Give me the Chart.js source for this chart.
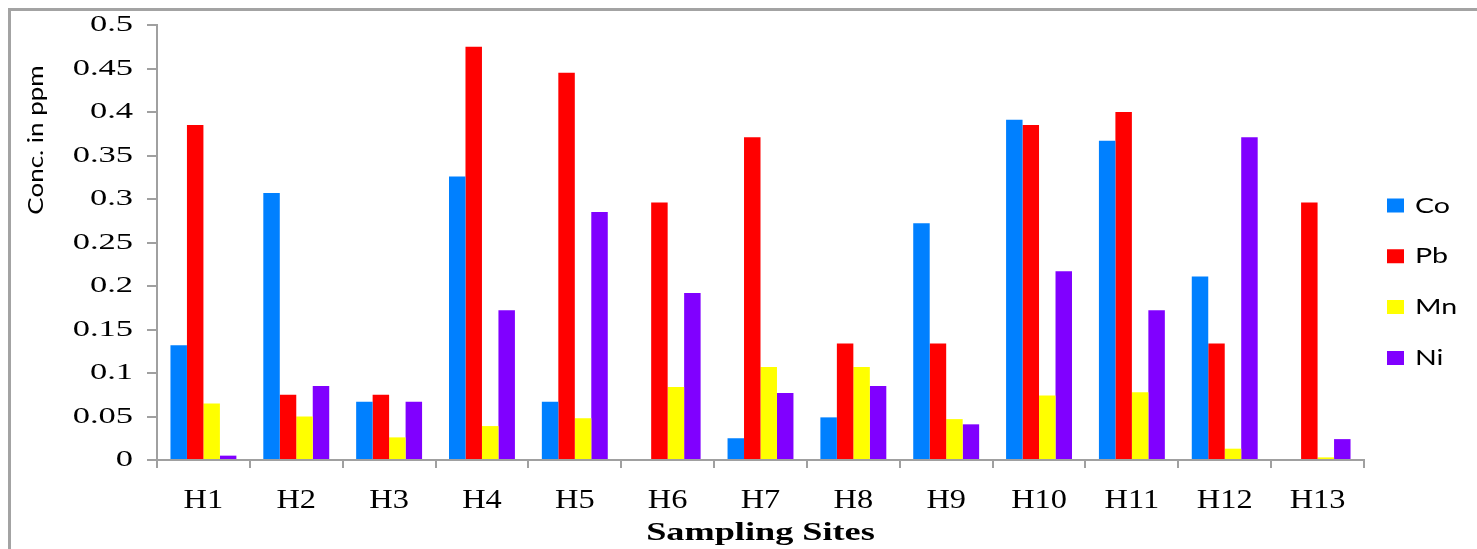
<!DOCTYPE html>
<html>
<head>
<meta charset="utf-8">
<script src="https://cdn.jsdelivr.net/npm/chart.js@4.4.1/dist/chart.umd.min.js"></script>
<style>
  html, body { margin: 0; padding: 0; background: #fff; overflow: hidden; }
  #wrap { position: relative; width: 1477px; height: 549px; overflow: hidden; background: #fff; }
  #frame { position: absolute; left: 8px; top: 8px; width: 1540px; height: 620px;
           border-top: 3px solid #a3a3a3; border-left: 3px solid #a3a3a3; }
  canvas { position: absolute; left: 0; top: 0; }
</style>
</head>
<body>
<div id="wrap">
  <div id="frame"></div>
  <canvas id="c" width="1477" height="549"></canvas>
</div>
<script>
// Sampling sites along the x axis
const sites = ['H1', 'H2', 'H3', 'H4', 'H5', 'H6', 'H7', 'H8', 'H9', 'H10', 'H11', 'H12', 'H13'];

// Metal concentrations (ppm) per site
const co = [0.132, 0.307, 0.067, 0.326, 0.067, 0, 0.025, 0.049, 0.272, 0.391, 0.367, 0.211, 0];
const pb = [0.385, 0.075, 0.075, 0.475, 0.445, 0.296, 0.371, 0.134, 0.134, 0.385, 0.400, 0.134, 0.296];
const mn = [0.065, 0.050, 0.026, 0.039, 0.048, 0.084, 0.107, 0.107, 0.047, 0.074, 0.078, 0.013, 0.003];
const ni = [0.005, 0.085, 0.067, 0.172, 0.285, 0.192, 0.077, 0.085, 0.041, 0.217, 0.172, 0.371, 0.024];

// Value-axis tick labels
const yTickLabels = ['0', '0.05', '0.1', '0.15', '0.2', '0.25', '0.3', '0.35', '0.4', '0.45', '0.5'];

const xTitle = 'Sampling Sites';
const yTitle = 'Conc. in ppm';

const AXIS_GRAY = '#a0a0a0';
const SERIF = '"Liberation Serif", "Times New Roman", serif';
const SANS = 'Lato, "Open Sans", "Liberation Sans", sans-serif';

// Run a drawing method with its text widened horizontally around each anchor
// point (and an optional shift of the whole element).
function withStretch(obj, name, sx, shift) {
  const key = '_st_' + name;
  if (!obj || obj[key]) return;
  const orig = obj[name].bind(obj);
  obj[name] = function (...args) {
    const ctx = obj.ctx;
    const baseFill = CanvasRenderingContext2D.prototype.fillText;
    ctx.save();
    if (shift) { const d = shift(obj); ctx.translate(d[0], d[1]); }
    ctx.fillText = function (t, x, y) {
      this.save();
      this.translate(x, y);
      this.scale(sx, 1);
      baseFill.call(this, t, 0, 0);
      this.restore();
    };
    try { orig(...args); } finally {
      delete ctx.fillText;
      ctx.restore();
    }
  };
  obj[key] = true;
}

const textPlugin = {
  id: 'textStretch',
  beforeLayout(chart) {
    // extra gap between value labels and tick marks, kept out of the layout padding
    withStretch(chart.scales.y, 'drawLabels', 1.5, () => [-6, 0]);
    withStretch(chart.scales.x, 'drawLabels', 1.2);
    withStretch(chart.scales.x, 'drawTitle', 1.45);
    const lg = chart.legend;
    if (lg && !lg._fixedFit) {
      const fit = lg.fit.bind(lg);
      lg.fit = function () { fit(); this.width = 113; };
      lg._fixedFit = true;
    }
    withStretch(lg, 'draw', 1.3, (l) => {
      const hb = l.legendHitBoxes && l.legendHitBoxes[0];
      return hb ? [1387 - hb.left, 194.5 - hb.top] : [0, 0];
    });
  }
};

// Rotated value-axis title, placed near the top of the axis
const yTitlePlugin = {
  id: 'yTitle',
  afterDraw(chart) {
    const ctx = chart.ctx;
    ctx.save();
    ctx.font = '22px ' + SANS;
    ctx.fillStyle = '#000';
    ctx.textAlign = 'center';
    ctx.textBaseline = 'alphabetic';
    ctx.translate(43, 140);
    ctx.rotate(-Math.PI / 2);
    ctx.scale(1.18, 1);
    ctx.fillText(yTitle, 0, 0);
    ctx.restore();
  }
};

const series = [
  { label: 'Co', data: co, color: '#0080ff' },
  { label: 'Pb', data: pb, color: '#ff0000' },
  { label: 'Mn', data: mn, color: '#ffff00' },
  { label: 'Ni', data: ni, color: '#8000ff' }
];

new Chart(document.getElementById('c'), {
  type: 'bar',
  data: {
    labels: sites,
    datasets: series.map(s => ({
      label: s.label,
      data: s.data,
      backgroundColor: s.color,
      borderWidth: 0,
      categoryPercentage: 0.71,
      barPercentage: 1.0
    }))
  },
  options: {
    responsive: false,
    animation: false,
    devicePixelRatio: 1,
    layout: { padding: { top: 25, left: 0, right: 0, bottom: 0 } },
    plugins: {
      tooltip: { enabled: false },
      legend: {
        position: 'right',
        labels: {
          boxWidth: 17,
          boxHeight: 14,
          padding: 28.8,
          color: '#000',
          font: { family: SANS, size: 22 }
        }
      }
    },
    scales: {
      x: {
        grid: { display: true, drawOnChartArea: false, drawTicks: true, offset: true,
                tickLength: 8, color: AXIS_GRAY, lineWidth: 2 },
        border: { display: true, color: AXIS_GRAY, width: 2 },
        ticks: { color: '#000', font: { family: SERIF, size: 27 }, padding: 17,
                 autoSkip: false, maxRotation: 0 },
        title: { display: true, text: xTitle, color: '#000',
                 font: { family: SERIF, size: 25, weight: 'bold' },
                 padding: { top: 14, bottom: 0 } },
        afterFit(scale) { scale.height = 89; }
      },
      y: {
        min: 0,
        max: 0.5,
        grid: { display: true, drawOnChartArea: false, drawTicks: true,
                tickLength: 10, color: AXIS_GRAY, lineWidth: 2 },
        border: { display: true, color: AXIS_GRAY, width: 2 },
        ticks: {
          stepSize: 0.05,
          color: '#000',
          font: { family: SERIF, size: 23 },
          padding: 8,
          callback: (v, i) => yTickLabels[i]
        },
        afterFit(scale) { scale.width = 157; }
      }
    }
  },
  plugins: [textPlugin, yTitlePlugin]
});
</script>
</body>
</html>
